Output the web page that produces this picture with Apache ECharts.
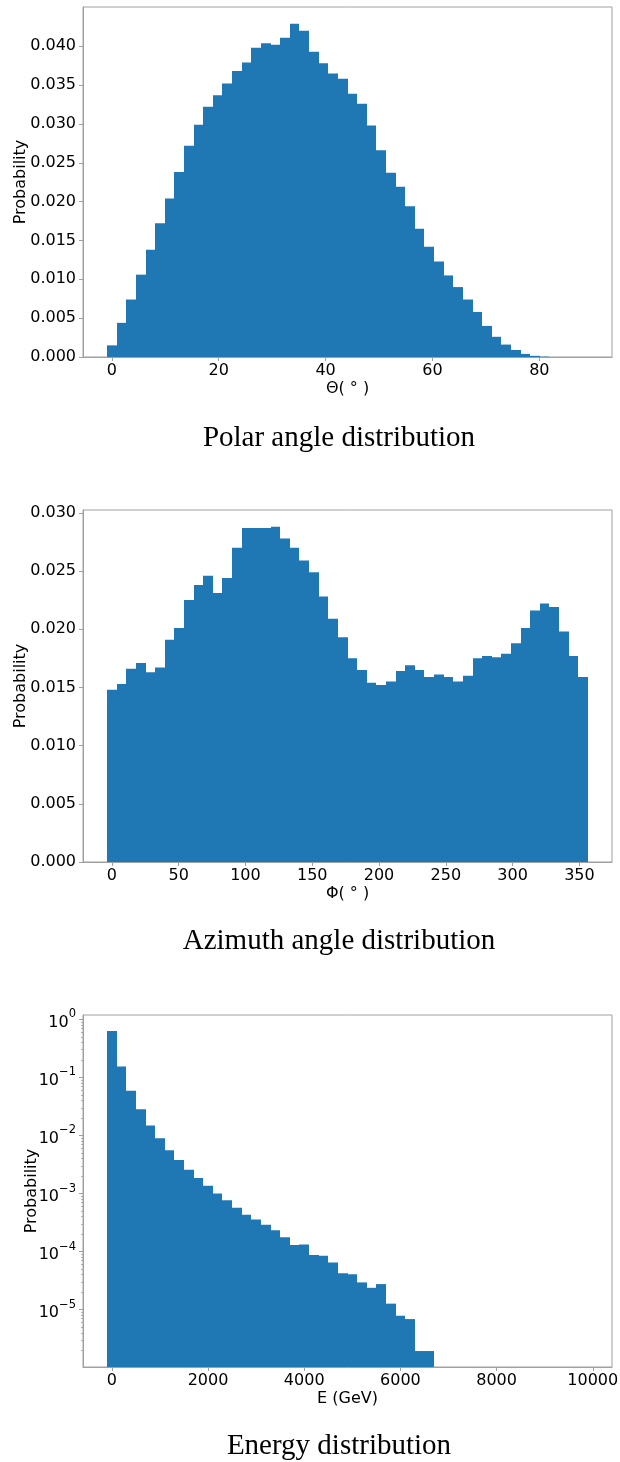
<!DOCTYPE html>
<html>
<head>
<meta charset="utf-8">
<title>Distributions</title>
<script src="https://cdn.jsdelivr.net/npm/echarts@6/dist/echarts.min.js"></script>
<style>
  html, body { margin: 0; padding: 0; background: #fff; }
</style>
</head>
<body>
<div id="box" style="width: 620px;height: 1462px;"></div>
<script>
// histogram heights, one value per bin (bins centred on index * width)
var thetaBin = 1.8
var thetaProb = [
  0.0015, 0.0044, 0.0074, 0.0106, 0.0138, 0.0172, 0.0204, 0.0238, 0.0272, 0.0299,
  0.0322, 0.0337, 0.0352, 0.0368, 0.0379, 0.0398, 0.0404, 0.0402, 0.0411, 0.0429,
  0.0420, 0.0393, 0.0378, 0.0365, 0.0358, 0.0339, 0.0326, 0.0298, 0.0266, 0.0237,
  0.0219, 0.0194, 0.0165, 0.0142, 0.0123, 0.0105, 0.0090, 0.0074, 0.0058, 0.0040,
  0.0026, 0.0016, 0.0009, 0.0004, 0.00015, 0.00005, 0, 0, 0, 0
]

var phiBin = 7.2
var phiProb = [
  0.0148, 0.0153, 0.0166, 0.0171, 0.0163, 0.0167, 0.0191, 0.0201, 0.0225, 0.0238,
  0.0246, 0.0231, 0.0244, 0.0270, 0.0287, 0.0287, 0.0287, 0.0288, 0.0278, 0.0270,
  0.0259, 0.0249, 0.0228, 0.0209, 0.0193, 0.0175, 0.0165, 0.0154, 0.0152, 0.0155,
  0.0164, 0.0169, 0.0165, 0.0159, 0.0161, 0.0159, 0.0155, 0.0160, 0.0175, 0.0177,
  0.0176, 0.0179, 0.0188, 0.0201, 0.0216, 0.0222, 0.0219, 0.0198, 0.0177, 0.0159
]

var energyBin = 200
var energyProb = [
  0.63, 0.154, 0.059, 0.0283, 0.0148, 0.0090, 0.0056, 0.00378, 0.00258, 0.00186,
  0.00136, 0.00100, 0.000766, 0.000571, 0.000431, 0.000358, 0.000289, 0.000233, 0.000176, 0.000130,
  0.000133, 0.0000871, 0.0000850, 0.0000652, 0.0000423, 0.0000406, 0.0000295, 0.0000238, 0.0000276, 0.0000127,
  0.00000787, 0.00000689, 0.00000194, 0.00000194, 0, 0, 0, 0, 0, 0,
  0, 0, 0, 0, 0, 0, 0, 0, 0, 0
]

// tick labels
var thetaTicks = [0, 20, 40, 60, 80]
var phiTicks = [0, 50, 100, 150, 200, 250, 300, 350]
var energyTicks = [0, 2000, 4000, 6000, 8000, 10000]
var thetaYTicks = [0, 0.005, 0.010, 0.015, 0.020, 0.025, 0.030, 0.035, 0.040]
var phiYTicks = [0, 0.005, 0.010, 0.015, 0.020, 0.025, 0.030]
var energyYTicks = [1e-5, 1e-4, 1e-3, 1e-2, 1e-1, 1]

var logMin = 1.03e-6, logMax = 1.19

// minor ticks of the log axis: 2..9 x 10^k inside the range
var energyMinor = []
for (var k = -6; k <= 0; k++) {
  for (var m = 2; m <= 9; m++) {
    var v = m * Math.pow(10, k)
    if (v > logMin && v < logMax) energyMinor.push(v)
  }
}

var blue = '#1f77b4'
var frame = '#a0a0a0'
var sans = 'DejaVu Sans'

function toPoints(arr, bin) {
  return arr.map(function (p, i) { return [i * bin, p] })
}

function histItem(bin, floor) {
  return function (params, api) {
    var x = api.value(0), y = api.value(1)
    if (!(y > 0)) return
    var p0 = api.coord([x - bin / 2, y])
    var p1 = api.coord([x + bin / 2, floor])
    // snap the sides to whole pixels so neighbouring bars meet without seams
    var left = Math.round(p0[0]), right = Math.round(p1[0])
    return {
      type: 'rect',
      shape: { x: left, y: p0[1], width: right - left, height: p1[1] - p0[1] },
      style: { fill: blue }
    }
  }
}

function xAxisOf(idx, min, max, ticks, name) {
  return {
    type: 'value', gridIndex: idx, min: min, max: max,
    name: name, nameLocation: 'middle', nameGap: 24, nameMoveOverlap: false,
    nameTextStyle: { fontFamily: sans, fontSize: 16, color: '#000' },
    axisLine: { show: true, onZero: false, lineStyle: { color: frame } },
    axisTick: { show: true, length: 4, customValues: ticks, lineStyle: { color: frame } },
    axisLabel: {
      customValues: ticks, margin: 6, fontFamily: sans, fontSize: 16, color: '#000',
      formatter: function (v) { return String(v) }
    },
    splitLine: { show: false }
  }
}

function yAxisOf(idx, min, max, ticks, gap) {
  return {
    type: 'value', gridIndex: idx, min: min, max: max,
    name: 'Probability', nameLocation: 'middle', nameGap: gap, nameRotate: 90,
    nameMoveOverlap: false,
    nameTextStyle: { fontFamily: sans, fontSize: 16, color: '#000' },
    axisLine: { show: true, onZero: false, lineStyle: { color: frame } },
    axisTick: { show: true, length: 4, customValues: ticks, lineStyle: { color: frame } },
    axisLabel: {
      customValues: ticks, margin: 7, fontFamily: sans, fontSize: 16, color: '#000',
      formatter: function (v) { return v.toFixed(3) }
    },
    splitLine: { show: false }
  }
}

function titleOf(text, top) {
  return {
    text: text, left: 339, top: top, textAlign: 'center', padding: 0,
    textStyle: { fontFamily: 'Liberation Serif', fontSize: 29, fontWeight: 'normal', color: '#000' }
  }
}

function gridOf(top, height) {
  return {
    left: 83, width: 529, top: top, height: height, containLabel: false,
    outerBoundsMode: 'none', show: true, borderColor: frame, borderWidth: 1
  }
}

var mCharts = echarts.init(document.querySelector('#box'))

var option = {
  animation: false,
  title: [
    titleOf('Polar angle distribution', 424),
    titleOf('Azimuth angle distribution', 927),
    titleOf('Energy distribution', 1432)
  ],
  grid: [gridOf(7, 350), gridOf(510, 352), gridOf(1015, 352)],
  xAxis: [
    xAxisOf(0, -5.4, 93.6, thetaTicks, 'Θ( ° )'),
    xAxisOf(1, -21.6, 374.4, phiTicks, 'Φ( ° )'),
    xAxisOf(2, -600, 10400, energyTicks, 'E (GeV)')
  ],
  yAxis: [
    yAxisOf(0, 0, 0.04505, thetaYTicks, 54),
    yAxisOf(1, 0, 0.03024, phiYTicks, 54),
    {
      type: 'log', gridIndex: 2, min: logMin, max: logMax, logBase: 10, position: 'left',
      name: 'Probability', nameLocation: 'middle', nameGap: 43, nameRotate: 90,
      nameMoveOverlap: false,
      nameTextStyle: { fontFamily: sans, fontSize: 16, color: '#000' },
      axisLine: { show: true, onZero: false, lineStyle: { color: frame } },
      axisTick: { show: true, length: 4, customValues: energyYTicks, lineStyle: { color: frame } },
      axisLabel: {
        customValues: energyYTicks, margin: 7, color: '#000',
        formatter: function (v) {
          var n = Math.round(Math.log10(v))
          return '{b|10}{s|' + (n < 0 ? '\u2212' + (-n) : n) + '}'
        },
        rich: {
          b: { fontFamily: sans, fontSize: 16, lineHeight: 22, verticalAlign: 'bottom', color: '#000' },
          s: { fontFamily: sans, fontSize: 11.5, lineHeight: 12, verticalAlign: 'top', color: '#000' }
        }
      },
      splitLine: { show: false }
    },
    {
      type: 'log', gridIndex: 2, min: logMin, max: logMax, logBase: 10, position: 'left',
      axisLine: { show: false, onZero: false },
      axisTick: { show: true, length: 2, customValues: energyMinor, lineStyle: { color: frame, width: 0.8 } },
      axisLabel: { show: false },
      splitLine: { show: false }
    }
  ],
  series: [
    {
      type: 'custom', xAxisIndex: 0, yAxisIndex: 0, clip: true,
      renderItem: histItem(thetaBin, 0), data: toPoints(thetaProb, thetaBin)
    },
    {
      type: 'custom', xAxisIndex: 1, yAxisIndex: 1, clip: true,
      renderItem: histItem(phiBin, 0), data: toPoints(phiProb, phiBin)
    },
    {
      type: 'custom', xAxisIndex: 2, yAxisIndex: 2, clip: true,
      renderItem: histItem(energyBin, logMin), data: toPoints(energyProb, energyBin)
    }
  ]
}
mCharts.setOption(option)
</script>
</body>
</html>
